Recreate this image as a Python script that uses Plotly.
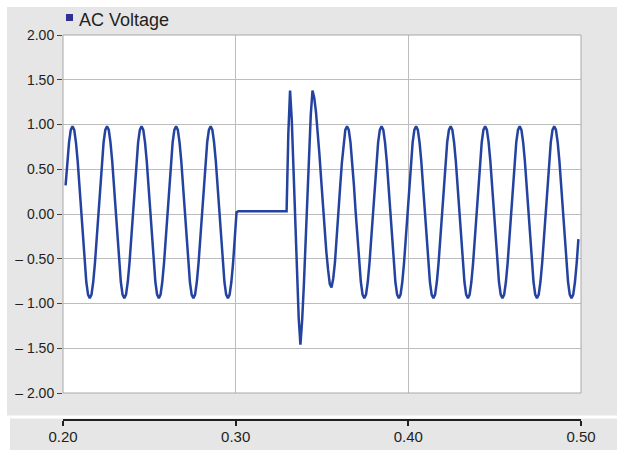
import plotly.graph_objects as go

# ---------------- data ----------------
t_first = 0.2015          # time of first sample (s)
t_step = 0.001            # sample spacing (s)

# steady 50 Hz wave before the interruption (0.2015 .. 0.3005 s)
pre_fault_v = [
    0.32, 0.59, 0.80, 0.94, 0.98, 0.94, 0.80, 0.59, 0.32, 0.02,
    -0.28, -0.55, -0.76, -0.90, -0.94, -0.90, -0.76, -0.55, -0.28, 0.02,
    0.32, 0.59, 0.80, 0.94, 0.98, 0.94, 0.80, 0.59, 0.32, 0.02,
    -0.28, -0.55, -0.76, -0.90, -0.94, -0.90, -0.76, -0.55, -0.28, 0.02,
    0.32, 0.59, 0.80, 0.94, 0.98, 0.94, 0.80, 0.59, 0.32, 0.02,
    -0.28, -0.55, -0.76, -0.90, -0.94, -0.90, -0.76, -0.55, -0.28, 0.02,
    0.32, 0.59, 0.80, 0.94, 0.98, 0.94, 0.80, 0.59, 0.32, 0.02,
    -0.28, -0.55, -0.76, -0.90, -0.94, -0.90, -0.76, -0.55, -0.28, 0.02,
    0.32, 0.59, 0.80, 0.94, 0.98, 0.94, 0.80, 0.59, 0.32, 0.02,
    -0.28, -0.55, -0.76, -0.90, -0.94, -0.90, -0.76, -0.55, -0.28, 0.02,
]

# interruption: flat level (0.3015 .. 0.3295 s)
outage_v = [
    0.03, 0.03, 0.03, 0.03, 0.03, 0.03, 0.03, 0.03, 0.03, 0.03,
    0.03, 0.03, 0.03, 0.03, 0.03, 0.03, 0.03, 0.03, 0.03, 0.03,
    0.03, 0.03, 0.03, 0.03, 0.03, 0.03, 0.03, 0.03, 0.03,
]

# re-energising transient (0.3305 .. 0.3635 s)
transient_v = [
    0.90, 1.38, 1.05, 0.53, -0.08, -0.67, -1.16, -1.46, -1.19, -0.79,
    -0.30, 0.23, 0.71, 1.11, 1.38, 1.30, 1.14, 0.93, 0.67, 0.39,
    0.10, -0.18, -0.42, -0.62, -0.78, -0.82, -0.72, -0.54, -0.29, 0.00,
    0.30, 0.57, 0.79, 0.94,
]

# steady wave after recovery (0.3645 .. 0.4985 s)
recovery_v = [
    0.98, 0.94, 0.80, 0.59, 0.32, 0.02, -0.28, -0.55, -0.76, -0.90,
    -0.94, -0.90, -0.76, -0.55, -0.28,
    0.02, 0.32, 0.59, 0.80, 0.94, 0.98, 0.94, 0.80, 0.59, 0.32,
    0.02, -0.28, -0.55, -0.76, -0.90, -0.94, -0.90, -0.76, -0.55, -0.28,
    0.02, 0.32, 0.59, 0.80, 0.94, 0.98, 0.94, 0.80, 0.59, 0.32,
    0.02, -0.28, -0.55, -0.76, -0.90, -0.94, -0.90, -0.76, -0.55, -0.28,
    0.02, 0.32, 0.59, 0.80, 0.94, 0.98, 0.94, 0.80, 0.59, 0.32,
    0.02, -0.28, -0.55, -0.76, -0.90, -0.94, -0.90, -0.76, -0.55, -0.28,
    0.02, 0.32, 0.59, 0.80, 0.94, 0.98, 0.94, 0.80, 0.59, 0.32,
    0.02, -0.28, -0.55, -0.76, -0.90, -0.94, -0.90, -0.76, -0.55, -0.28,
    0.02, 0.32, 0.59, 0.80, 0.94, 0.98, 0.94, 0.80, 0.59, 0.32,
    0.02, -0.28, -0.55, -0.76, -0.90, -0.94, -0.90, -0.76, -0.55, -0.28,
    0.02, 0.32, 0.59, 0.80, 0.94, 0.98, 0.94, 0.80, 0.59, 0.32,
    0.02, -0.28, -0.55, -0.76, -0.90, -0.94, -0.90, -0.76, -0.55, -0.28,
]

series_name = "AC Voltage"
x_ticks = [0.2, 0.3, 0.4, 0.5]
x_labels = ["0.20", "0.30", "0.40", "0.50"]
y_ticks = [2.0, 1.5, 1.0, 0.5, 0.0, -0.5, -1.0, -1.5, -2.0]
y_labels = ["2.00", "1.50", "1.00", "0.50", "0.00",
            "\u2013 0.50", "\u2013 1.00", "\u2013 1.50", "\u2013 2.00"]

# ---------------- figure ----------------
volts = pre_fault_v + outage_v + transient_v + recovery_v
times = [round(t_first + t_step * i, 4) for i in range(len(volts))]

W, H = 617, 450
L, R, T, B = 63, 36, 35, 30
PW, PH = W - L - R, H - T - B


def px(x):
    return (x - L) / PW


def py(y):
    return (H - B - y) / PH


LINE_COL = "#2443a0"
BG = "#e6e6e7"
TXT = "#231f20"
NARROW = "Liberation Sans Narrow, Arial Narrow, Liberation Sans, Arial, sans-serif"
REG = "Liberation Sans, Arial, sans-serif"

fig = go.Figure()
fig.add_trace(go.Scatter(x=times, y=volts, mode="lines", name=series_name,
                         line=dict(color=LINE_COL, width=2.5), showlegend=False,
                         hoverinfo="skip"))

fig.update_layout(
    template="none",
    width=W, height=H,
    margin=dict(l=L, r=R, t=T, b=B, pad=0, autoexpand=False),
    paper_bgcolor=BG, plot_bgcolor="white",
    showlegend=False,
    xaxis=dict(range=[0.2, 0.5], tickvals=x_ticks, ticktext=x_labels,
               anchor="free", position=0, automargin=False,
               showline=True, linecolor=TXT, linewidth=1.5,
               ticks="outside", ticklen=5, tickwidth=1.5, tickcolor=TXT,
               ticklabelstandoff=-2,
               showgrid=True, gridcolor="#bdbdbd", gridwidth=1,
               zeroline=False,
               tickfont=dict(family=NARROW, size=15, color=TXT)),
    yaxis=dict(range=[-2, 2], domain=[py(393), 1], automargin=False,
               tickvals=y_ticks, ticktext=y_labels,
               showline=False, ticks="outside", ticklen=5, tickwidth=1,
               tickcolor="#444444",
               showgrid=True, gridcolor="#bdbdbd", gridwidth=1,
               zeroline=False,
               tickfont=dict(family=NARROW, size=14, color=TXT)),
)

shapes = [
    # plot border
    dict(type="rect", xref="x domain", yref="y domain", x0=0, x1=1, y0=0, y1=1,
         line=dict(color="#a8a8a8", width=1), layer="above"),
    # white frame strips
    dict(type="rect", xref="paper", yref="paper", x0=px(-5), x1=px(625),
         y0=py(7), y1=py(-5), fillcolor="white", line=dict(width=0)),
    dict(type="rect", xref="paper", yref="paper", x0=px(-5), x1=px(7),
         y0=py(455), y1=py(-5), fillcolor="white", line=dict(width=0)),
    dict(type="rect", xref="paper", yref="paper", x0=px(-5), x1=px(625),
         y0=py(418.5), y1=py(415.5), fillcolor="white", line=dict(width=0)),
    dict(type="rect", xref="paper", yref="paper", x0=px(-5), x1=px(10),
         y0=py(455), y1=py(418), fillcolor="white", line=dict(width=0)),
    # legend swatch
    dict(type="rect", xref="paper", yref="paper", x0=px(66), x1=px(73),
         y0=py(21), y1=py(14), fillcolor="#2e3192", line=dict(width=0)),
]
fig.update_layout(shapes=shapes)

fig.add_annotation(xref="paper", yref="paper", x=px(77), y=py(20.5),
                   xanchor="left", yanchor="middle", showarrow=False,
                   text=series_name, font=dict(family=REG, size=18, color=TXT))

fig.write_html("out.html")
